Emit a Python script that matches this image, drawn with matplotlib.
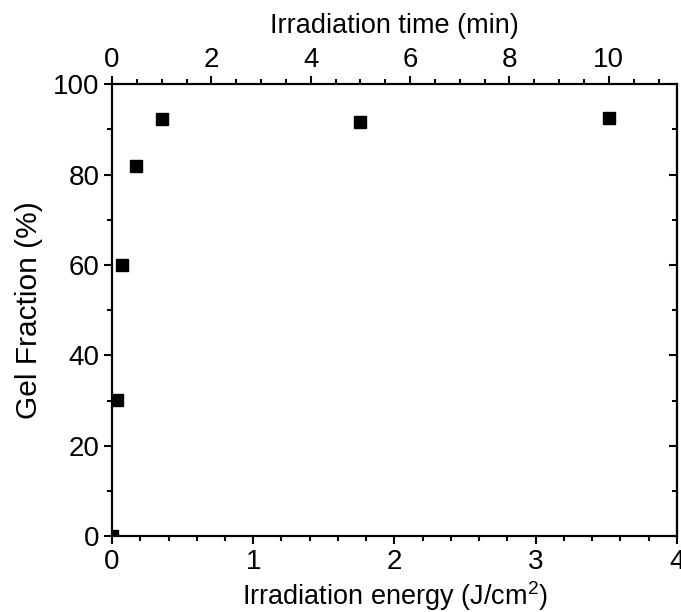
import numpy as np
import matplotlib
matplotlib.use("Agg")
import matplotlib.pyplot as plt
from matplotlib.ticker import MultipleLocator, NullFormatter

plt.rcParams['font.family'] = ['Liberation Sans', 'DejaVu Sans']
plt.rcParams['mathtext.fontset'] = 'custom'
plt.rcParams['mathtext.rm'] = 'Liberation Sans'
plt.rcParams['mathtext.it'] = 'Liberation Sans'
plt.rcParams['mathtext.bf'] = 'Liberation Sans'

# irradiation time (min) and measured gel fraction (%)
time_min = [0, 0.11, 0.2, 0.49, 1.0, 5.0, 10.0]
gel_frac = [0, 30.2, 60.1, 81.8, 92.3, 91.6, 92.5]

# UV dose rate, J/cm2 per minute
dose_rate = 0.3518

energy = np.array(time_min) * dose_rate

fig = plt.figure(figsize=(6.81, 6.12), dpi=100)
ax = fig.add_axes([0.1645, 0.1234, 0.8295, 0.7393])

ax.plot(energy, gel_frac, 's', color='black', markersize=9.2, linestyle='none')

ax.set_xlim(0, 4)
ax.set_ylim(0, 100)
ax.xaxis.set_major_locator(MultipleLocator(1))
ax.xaxis.set_minor_locator(MultipleLocator(0.2))
ax.yaxis.set_major_locator(MultipleLocator(20))
ax.yaxis.set_minor_locator(MultipleLocator(10))

ax.set_xlabel(r'Irradiation energy (J/cm$^\mathregular{2}$)', fontsize=19.5, labelpad=3)
ax.set_ylabel('Gel Fraction (%)', fontsize=21.5, labelpad=7)

for s in ax.spines.values():
    s.set_linewidth(1.5)

ax.tick_params(which='both', direction='out', width=1.5, labelsize=20, pad=3)
ax.tick_params(which='major', length=6)
ax.tick_params(which='minor', length=3.5)

# right spine: inward ticks, no labels
axr = ax.secondary_yaxis('right')
axr.yaxis.set_major_locator(MultipleLocator(20))
axr.yaxis.set_minor_locator(MultipleLocator(10))
axr.yaxis.set_major_formatter(NullFormatter())
axr.tick_params(which='both', direction='in', width=1.5)
axr.tick_params(which='major', length=6)
axr.tick_params(which='minor', length=3.5)
axr.spines['right'].set_linewidth(1.5)

# top axis in minutes
ax2 = ax.twiny()
ax2.set_xlim(0, 4 / dose_rate)
ax2.xaxis.set_major_locator(MultipleLocator(2))
ax2.xaxis.set_minor_locator(MultipleLocator(0.5))
ax2.tick_params(which='both', direction='out', width=1.5, labelsize=20, pad=2)
ax2.tick_params(which='major', length=6)
ax2.tick_params(which='minor', length=3.5)
ax2.set_xlabel('Irradiation time (min)', fontsize=19.5, labelpad=10)
for s in ax2.spines.values():
    s.set_linewidth(1.5)

fig.savefig('out.png', dpi=100)
